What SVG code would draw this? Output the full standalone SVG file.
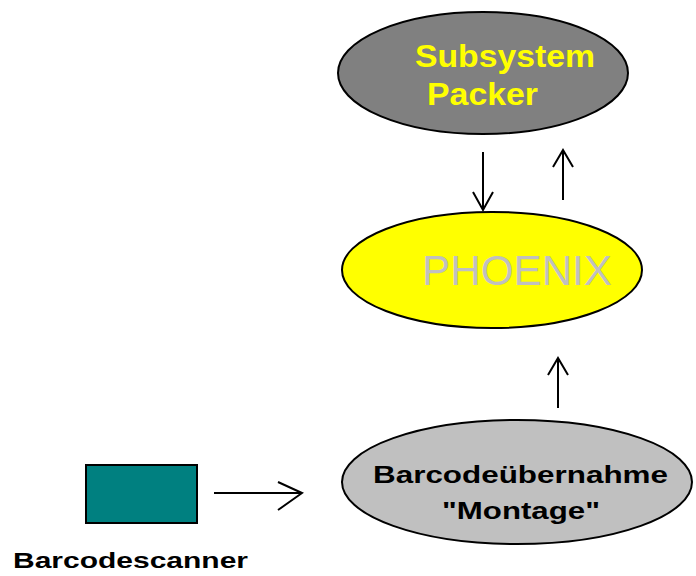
<svg xmlns="http://www.w3.org/2000/svg" width="696" height="576" viewBox="0 0 696 576">
  <style>
    .shape { stroke: #000; stroke-width: 2; }
    .conn { fill: none; stroke: #000; stroke-width: 2; }
    .bold { font-family: "Liberation Sans", Arial, sans-serif; font-weight: bold; }
    .dark { fill: #000; }
  </style>
  <rect width="696" height="576" fill="#fff"/>
  <g id="subsystem-packer">
    <ellipse class="shape" cx="483" cy="73" rx="145" ry="61" fill="#808080"/>
    <text class="bold" x="415" y="67" font-size="31" fill="#ffff00" textLength="180" lengthAdjust="spacingAndGlyphs">Subsystem</text>
    <text class="bold" x="427" y="105" font-size="31" fill="#ffff00" textLength="111" lengthAdjust="spacingAndGlyphs">Packer</text>
  </g>
  <g id="phoenix">
    <ellipse class="shape" cx="492" cy="270" rx="150" ry="58" fill="#ffff00"/>
    <text x="422" y="285" font-family="'Liberation Sans', Arial, sans-serif" font-size="42" fill="#c0c0c0" textLength="190" lengthAdjust="spacingAndGlyphs">PHOENIX</text>
  </g>
  <g id="barcodeuebernahme">
    <ellipse class="shape" cx="517" cy="482" rx="175" ry="62" fill="#c0c0c0"/>
    <text class="bold dark" x="373" y="483" font-size="24" textLength="295" lengthAdjust="spacingAndGlyphs">Barcodeübernahme</text>
    <text class="bold dark" x="442" y="519" font-size="24" textLength="158" lengthAdjust="spacingAndGlyphs">"Montage"</text>
  </g>
  <g id="barcodescanner">
    <rect class="shape" x="86" y="465" width="111" height="58" fill="#008080"/>
    <text class="bold dark" x="13" y="568" font-size="22" textLength="235" lengthAdjust="spacingAndGlyphs">Barcodescanner</text>
  </g>
  <g id="connectors">
    <path class="conn" d="M483 152 V210 M473 192 L483 210 L493 192"/>
    <path class="conn" d="M563 200 V150 M553 167 L563 150 L573 167"/>
    <path class="conn" d="M558 408 V358 M548 375 L558 358 L568 375"/>
    <path class="conn" d="M214 493 H302 M278 482 L302 493 L278 510"/>
  </g>
</svg>
